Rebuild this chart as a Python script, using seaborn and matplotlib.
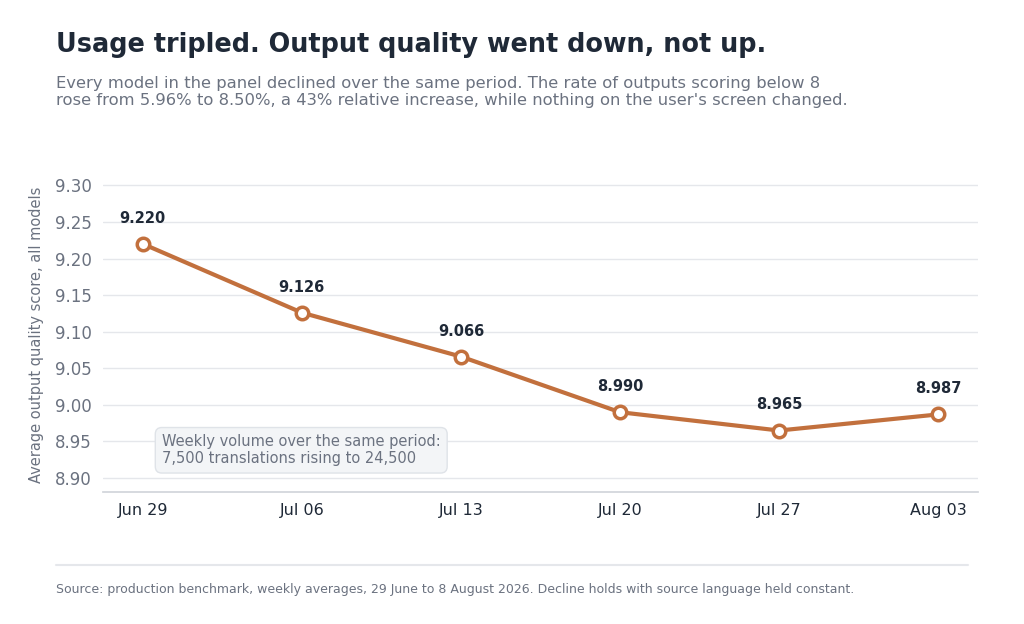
import matplotlib
matplotlib.use("Agg")
import matplotlib.pyplot as plt
import seaborn as sns
import pandas as pd

weeks = ["Jun 29", "Jul 06", "Jul 13", "Jul 20", "Jul 27", "Aug 03"]
scores = [9.220, 9.126, 9.066, 8.990, 8.965, 8.987]
yticks = [8.90, 8.95, 9.00, 9.05, 9.10, 9.15, 9.20, 9.25, 9.30]

sns.set_theme(style="white")
plt.rcParams['font.family'] = ['DejaVu Sans']

df = pd.DataFrame({"x": range(len(weeks)), "score": scores})
fig = plt.figure(figsize=(10.24, 6.24), dpi=100)
ax = fig.add_axes([103/1024, 1-492/624, (978-103)/1024, (492-178)/624])
color = "#c2703d"
sns.lineplot(data=df, x="x", y="score", ax=ax, color=color, linewidth=3,
             marker="o", markersize=9, markerfacecolor="white",
             markeredgecolor=color, markeredgewidth=2.5)
for i, v in enumerate(scores):
    ax.annotate(f"{v:.3f}", (i, v), xytext=(0, 13), textcoords="offset points",
                ha="center", va="bottom", fontsize=10.5, fontweight="bold", color="#1f2937")
ax.set_xlim(-0.25, 5.25)
ax.set_ylim(8.881, 9.31)
ax.set_yticks(yticks)
ax.set_yticklabels([f"{t:.2f}" for t in yticks], color="#6b7280", fontsize=12)
ax.set_xticks(range(len(weeks)))
ax.set_xticklabels(weeks, color="#1f2937", fontsize=11.5)
ax.tick_params(axis="both", length=0, pad=8)
ax.grid(axis="y", color="#e5e7eb", linewidth=1)
for s in ["left", "right", "top"]:
    ax.spines[s].set_visible(False)
ax.spines["bottom"].set_color("#d1d5db")
ax.set_xlabel("")
ax.set_ylabel("Average output quality score, all models", color="#6b7280", fontsize=10.5, labelpad=8)

ax.text(0.12, 8.938, "Weekly volume over the same period:\n7,500 translations rising to 24,500",
        fontsize=10.5, color="#6b7280", va="center", ha="left",
        bbox=dict(boxstyle="round,pad=0.45", fc="#f3f5f7", ec="#dfe3e8"))

fig.text(56/1024, 1-45/624, "Usage tripled. Output quality went down, not up.",
         fontsize=18.4, fontweight="bold", color="#1f2937", va="center")
fig.text(56/1024, 1-92/624,
         "Every model in the panel declined over the same period. The rate of outputs scoring below 8\n"
         "rose from 5.96% to 8.50%, a 43% relative increase, while nothing on the user's screen changed.",
         fontsize=11.75, color="#6b7280", va="center", linespacing=1.2)
fig.add_artist(plt.Line2D([56/1024, 968/1024], [1-565/624, 1-565/624], color="#e5e7eb", linewidth=1.5))
fig.text(56/1024, 1-590/624,
         "Source: production benchmark, weekly averages, 29 June to 8 August 2026. Decline holds with source language held constant.",
         fontsize=9, color="#6b7280", va="center")
fig.savefig("out.png", dpi=100)
